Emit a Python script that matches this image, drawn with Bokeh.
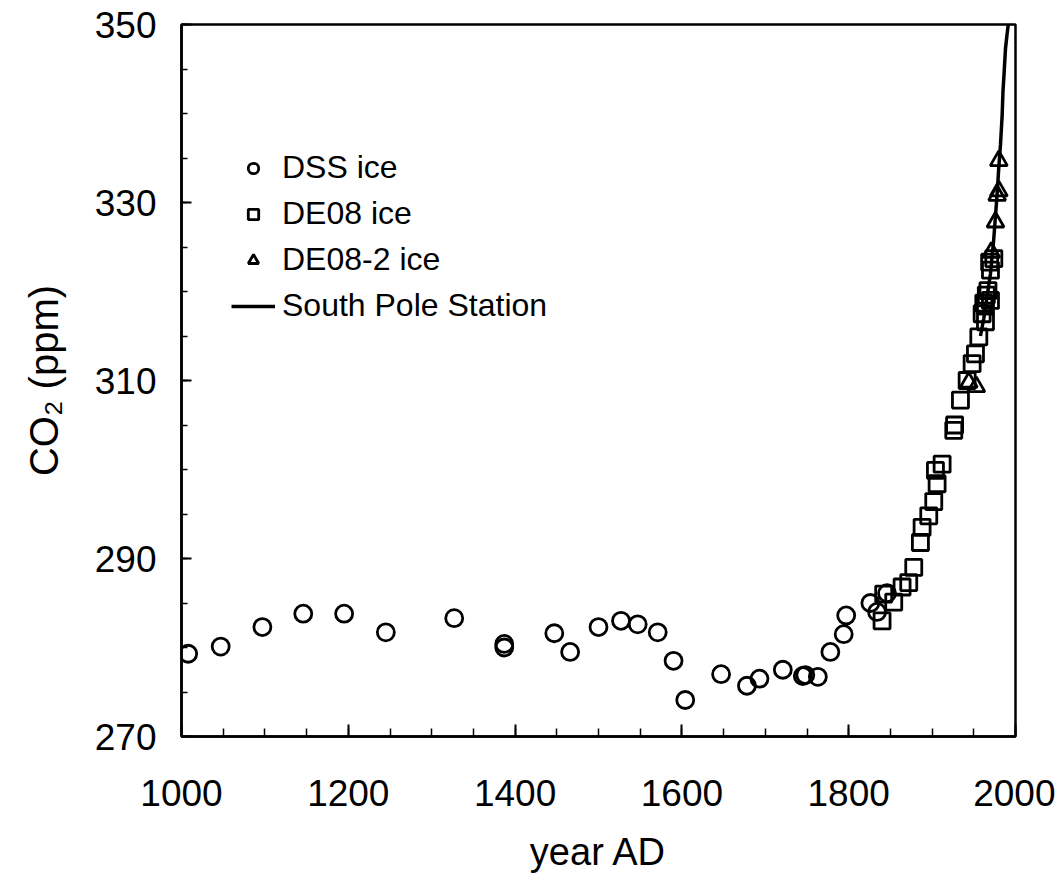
from bokeh.plotting import figure
from bokeh.models import Range1d, Legend, LegendItem, FixedTicker
from bokeh.embed import file_html
from bokeh.resources import INLINE

# --- data ---
dss_year = [1008, 1047, 1097, 1146, 1195, 1245, 1327, 1387, 1387, 1447, 1466, 1500,
            1527, 1547, 1571, 1590, 1604, 1647, 1678, 1693, 1721, 1745, 1748, 1763,
            1778, 1794, 1797, 1826, 1834, 1846]
dss_co2 = [279.3, 280.1, 282.3, 283.8, 283.8, 281.7, 283.3, 280.4, 280.0, 281.6, 279.5, 282.3,
           283.0, 282.6, 281.7, 278.5, 274.1, 277.0, 275.7, 276.5, 277.5, 276.8, 276.9, 276.7,
           279.5, 281.5, 283.6, 285.0, 284.0, 286.1]

de08_year = [1840, 1842, 1854, 1864, 1872, 1878, 1886, 1888, 1896, 1902, 1906, 1904,
             1912, 1926, 1927, 1934, 1942, 1948, 1952, 1956, 1960, 1964, 1962, 1965,
             1967, 1964, 1970, 1969, 1970, 1974]
de08_co2 = [283.0, 286.0, 285.1, 286.8, 287.3, 289.0, 291.8, 293.5, 294.8, 296.4, 298.4, 299.9,
            300.6, 304.4, 305.0, 307.8, 310.0, 311.9, 313.0, 314.9, 317.5, 316.6, 318.7, 319.6,
            320.1, 318.4, 319.0, 323.3, 322.4, 323.7]

de082_year = [1944, 1953, 1971, 1976, 1978, 1980, 1980]
de082_co2 = [309.8, 309.3, 324.4, 327.8, 330.8, 331.3, 334.7]

sp_year = [1958, 1962, 1966, 1970, 1974, 1978, 1980, 1982, 1984, 1985, 1986, 1988, 1990, 1992]
sp_co2 = [315.0, 317.0, 319.5, 322.0, 326.0, 331.0, 334.0, 336.5, 339.8, 342.5, 344.0, 347.3, 349.0, 350.5]

x_ticks = [1000, 1200, 1400, 1600, 1800, 2000]
y_ticks = [270, 290, 310, 330, 350]

FONT = "Liberation Sans"

p = figure(width=1055, height=880, output_backend="svg", toolbar_location=None,
           x_range=Range1d(1000, 2000), y_range=Range1d(270, 350),
           min_border_left=181, min_border_right=40, min_border_top=24, min_border_bottom=144)

p.background_fill_color = "white"
p.border_fill_color = "white"
p.outline_line_color = "black"
p.outline_line_width = 2.5
p.xgrid.visible = False
p.ygrid.visible = False

sp = p.line(sp_year, sp_co2, line_color="black", line_width=3.5)
c = p.scatter(dss_year, dss_co2, marker="circle", size=17, fill_color=None,
              line_color="black", line_width=2.8)
s = p.scatter(de08_year, de08_co2, marker="square", size=16, fill_color=None,
              line_color="black", line_width=2.8)
t = p.scatter(de082_year, de082_co2, marker="triangle", size=17, fill_color=None,
              line_color="black", line_width=2.8)

for ax in (p.xaxis[0], p.yaxis[0]):
    ax.axis_line_width = 2.5
    ax.axis_line_color = "black"
    ax.major_tick_out = 0
    ax.minor_tick_out = 0
    ax.major_tick_line_width = 2
    ax.minor_tick_line_width = 1.5
    ax.major_label_text_font = FONT
    ax.major_label_text_font_size = "37px"
    ax.major_label_text_color = "black"
    ax.axis_label_text_font = FONT
    ax.axis_label_text_font_style = "normal"
    ax.axis_label_text_color = "black"

p.xaxis.axis_label_text_font_size = "38px"
p.yaxis.axis_label_text_font_size = "40px"
p.xaxis.ticker = FixedTicker(ticks=x_ticks, minor_ticks=list(range(1000, 2001, 50)))
p.yaxis.ticker = FixedTicker(ticks=y_ticks, minor_ticks=list(range(270, 351, 5)))
p.xaxis.major_tick_in = 12
p.xaxis.minor_tick_in = 8
p.yaxis.major_tick_in = 10
p.yaxis.minor_tick_in = 6
p.xaxis.major_label_standoff = 43
p.yaxis.major_label_standoff = 25
p.xaxis.axis_label = "year AD"
p.yaxis.axis_label = "CO\u2082 (ppm)"
p.xaxis.axis_label_standoff = 22
p.yaxis.axis_label_standoff = 26

legend = Legend(items=[
    LegendItem(label="DSS ice", renderers=[c]),
    LegendItem(label="DE08 ice", renderers=[s]),
    LegendItem(label="DE08-2 ice", renderers=[t]),
    LegendItem(label="South Pole Station", renderers=[sp]),
], location=(50, 412))
legend.border_line_color = None
legend.background_fill_alpha = 0
legend.padding = 0
legend.margin = 0
legend.spacing = 9
legend.glyph_width = 44
legend.glyph_height = 26
legend.label_standoff = 7
legend.label_text_font = FONT
legend.label_text_font_size = "32px"
legend.label_text_color = "black"
p.add_layout(legend, "center")

open("out.html", "w").write(file_html(p, INLINE))
